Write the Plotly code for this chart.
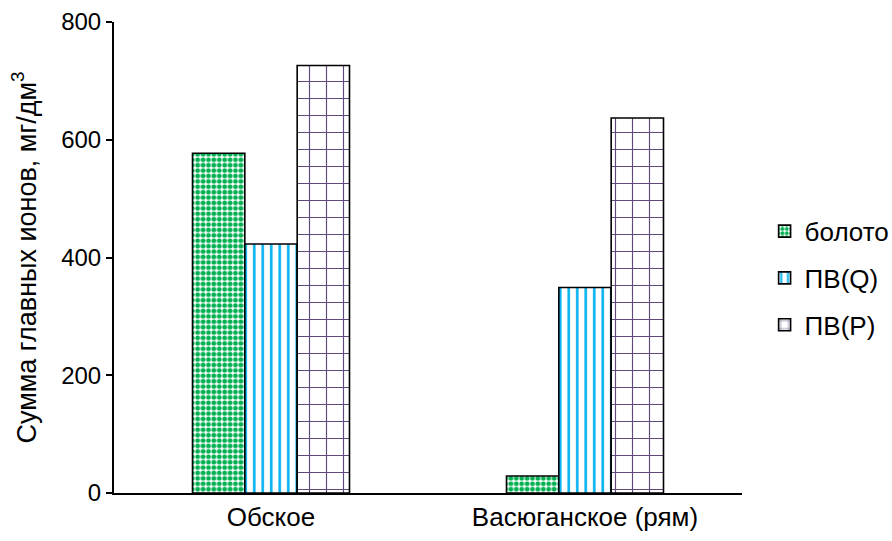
import plotly.graph_objects as go

categories = ["Обское", "Васюганское (рям)"]
series_names = ["болото", "ПВ(Q)", "ПВ(P)"]
boloto = [577, 29]
pv_q = [423, 349]
pv_p = [726, 637]
y_ticks = [0, 200, 400, 600, 800]

FONT = "Liberation Sans, Arial, sans-serif"

styles = [
    dict(shape=".", fgcolor="#00B050", bgcolor="white", size=5.4,
         solidity=0.6, fgopacity=1),
    dict(shape="|", fgcolor="#00B0F0", bgcolor="white", size=8.5,
         solidity=0.3, fgopacity=1),
    dict(shape="+", fgcolor="#5F497A", bgcolor="white", size=17,
         solidity=0.13, fgopacity=1),
]

fig = go.Figure()
for i, (name, vals) in enumerate(zip(series_names, [boloto, pv_q, pv_p])):
    fig.add_trace(go.Bar(
        x=categories, y=vals, name=name, legendgroup=name,
        marker=dict(color="white", pattern=styles[i],
                    line=dict(color="black", width=1.6)),
    ))

fig.update_layout(
    width=892, height=541,
    margin=dict(l=114, r=150, t=22, b=48, autoexpand=False),
    paper_bgcolor="white", plot_bgcolor="white",
    font=dict(family=FONT, size=24, color="black"),
    barmode="group", bargap=0.5, bargroupgap=0,
    showlegend=True,
    legend=dict(x=1.036, y=0.456, xanchor="left", yanchor="middle",
                tracegroupgap=10, font=dict(size=26),
                itemwidth=30, bgcolor="rgba(0,0,0,0)"),
    xaxis=dict(showline=True, linecolor="black", linewidth=2,
               ticks="", tickfont=dict(size=26), showgrid=False,
               automargin=False),
    yaxis=dict(range=[0, 800], tickvals=y_ticks, showline=True,
               linecolor="black", linewidth=2, ticks="outside",
               ticklen=6, tickwidth=2, tickcolor="black",
               showgrid=False, zeroline=False, tickfont=dict(size=24),
               automargin=False,
               title=dict(text="Сумма главных ионов, мг/дм<sup>3</sup>",
                          font=dict(size=27), standoff=17)),
)

fig.write_html("out.html")
